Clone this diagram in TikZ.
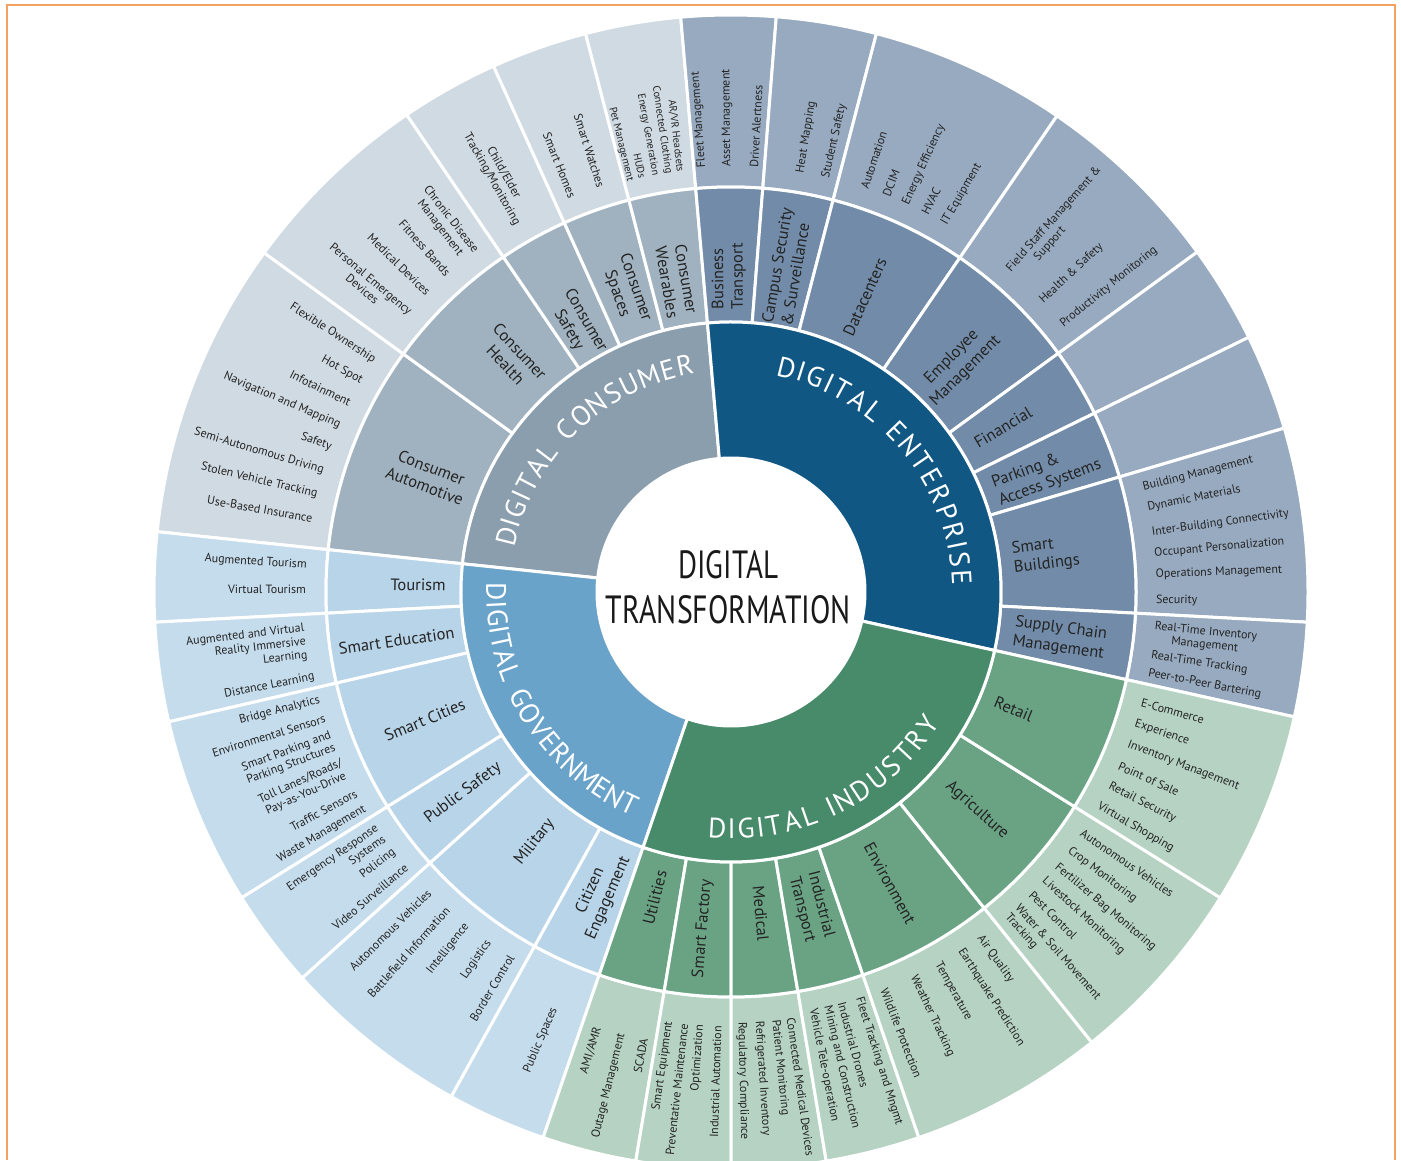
\documentclass[tikz,border=0pt]{standalone}
\usepackage{fontspec}
\usepackage{graphicx}
\setmainfont{PT Sans}
\newfontfamily\ptsans{PT Sans}
\usetikzlibrary{calc}
\definecolor{conI}{HTML}{8A9EAD}
\definecolor{conM}{HTML}{A0B2BF}
\definecolor{conO}{HTML}{D0DAE2}
\definecolor{entI}{HTML}{115784}
\definecolor{entM}{HTML}{718BA8}
\definecolor{entO}{HTML}{97AAC0}
\definecolor{govI}{HTML}{6AA3C9}
\definecolor{govM}{HTML}{B8D4E8}
\definecolor{govO}{HTML}{C5DCEC}
\definecolor{indI}{HTML}{488B6A}
\definecolor{indM}{HTML}{69A384}
\definecolor{indO}{HTML}{B5D2C2}
\definecolor{framecol}{HTML}{F4A261}
\definecolor{txt}{HTML}{242424}
\tikzset{
 otxt/.style={font=\ptsans\fontsize{12}{13.5}\selectfont, text=txt, inner sep=0pt, align=center},
 otxtsmall/.style={font=\ptsans\fontsize{10.5}{12}\selectfont, text=txt, inner sep=0pt},
 mtxt/.style={font=\ptsans\fontsize{16.5}{19.5}\selectfont, text=txt, inner sep=0pt},
 ringtxt/.style={font=\ptsans\fontsize{28}{28}\selectfont, text=white, inner sep=0pt, text height=19.5pt, text depth=0pt, anchor=center},
 titletxt/.style={font=\ptsans, text=black!90, inner sep=0pt},
}
\newcommand\ringsector[5]{\filldraw[fill=#5, draw=white, line width=3pt, line join=round] ($(C)+(#1:#3)$) arc[start angle=#1, end angle=#2, radius=#3pt] -- ($(C)+(#2:#4)$) arc[start angle=#2, end angle=#1, radius=#4pt] -- cycle;}
\newcommand\subcat[4]{\ringsector{#1}{#2}{405}{577}{#4}\ringsector{#1}{#2}{270}{405}{#3}}
\newcommand\oL[3][425]{\node[otxt, rotate=#2-180, anchor=east] at ($(C)+(#2:#1)$) {#3};}
\newcommand\oR[3][425]{\node[otxt, rotate=#2, anchor=west] at ($(C)+(#2:#1)$) {#3};}
\newcommand\oLs[2]{\node[otxtsmall, rotate=#1-180, anchor=east] at ($(C)+(#1:423)$) {#2};}
\newcommand\mL[4][center]{\node[mtxt, align=#1, rotate=#2-180] at ($(C)+(#2:#3)$) {#4};}
\newcommand\mR[4][center]{\node[mtxt, align=#1, rotate=#2] at ($(C)+(#2:#3)$) {#4};}
\newcommand\arcletters[5]{%
  \gdef\cumw{0}%
  \foreach \ch/\w in {#5}{%
    \pgfmathsetmacro\ang{#1+(#2)*(\cumw+\w/2)}%
    \node[ringtxt, rotate=\ang#4] at ($(C)+(\ang:#3)$) {\ch};
    \pgfmathsetmacro\tmpw{\cumw+\w}%
    \xdef\cumw{\tmpw}%
  }}
\begin{document}
\begin{tikzpicture}[x=1pt,y=1pt]
\useasboundingbox (0,0) rectangle (1401,1160);
\clip (0,0) rectangle (1401,1160);
\fill[white] (0,0) rectangle (1401,1160);
\coordinate (C) at (731,568);
% ---- consumer
\subcat{144}{174}{conM}{conO}
\subcat{124.2}{144}{conM}{conO}
\subcat{114.3}{124.2}{conM}{conO}
\subcat{104.6}{114.3}{conM}{conO}
\subcat{95}{104.6}{conM}{conO}
% ---- enterprise
\subcat{85.5}{95}{entM}{entO}
\subcat{75.4}{85.5}{entM}{entO}
\subcat{55.6}{75.4}{entM}{entO}
\subcat{36.1}{55.6}{entM}{entO}
\subcat{26.2}{36.1}{entM}{entO}
\subcat{16.5}{26.2}{entM}{entO}
\subcat{-3}{16.5}{entM}{entO}
\subcat{-12.5}{-3}{entM}{entO}
% ---- government
\subcat{174}{183}{govM}{govO}
\subcat{183}{193}{govM}{govO}
\subcat{193}{212}{govM}{govO}
\subcat{212}{222}{govM}{govO}
\subcat{222}{241}{govM}{govO}
\subcat{241}{251}{govM}{govO}
% ---- industry
\subcat{251}{260.5}{indM}{indO}
\subcat{260.5}{270}{indM}{indO}
\subcat{270}{279.5}{indM}{indO}
\subcat{279.5}{289}{indM}{indO}
\subcat{289}{308.7}{indM}{indO}
\subcat{308.7}{328}{indM}{indO}
\subcat{328}{347.5}{indM}{indO}
% ---- main ring
\ringsector{95}{174}{134}{270}{conI}
\ringsector{-12.5}{95}{134}{270}{entI}
\ringsector{174}{251}{134}{270}{govI}
\ringsector{251}{347.5}{134}{270}{indI}
\fill[white] (C) circle[radius=134pt];
% ---- title
\node[titletxt] (t1) at (728.5,595) {\resizebox{100pt}{28pt}{DIGITAL}};
\node[titletxt] (t2) at (728.5,550) {\resizebox{245pt}{28pt}{TRANSFORMATION}};
% ---- ring texts
\arcletters{168.46}{-4.914}{231}{-90}{D/1,I/.45,G/1,I/.45,T/.9,A/1,L/.8,~/.6,C/1,O/1.05,N/1,S/.9,U/1,M/1.15,E/.85,R/.95}
\arcletters{78.7}{-5.21}{231}{-90}{D/1,I/.45,G/1,I/.45,T/.9,A/1,L/.8,~/.6,E/.85,N/1,T/.9,E/.85,R/.95,P/.95,R/.95,I/.45,S/.9,E/.85}
\arcletters{177.85}{4.3}{235}{+90}{D/1,I/.45,G/1,I/.45,T/.9,A/1,L/.8,~/.6,G/1,O/1.05,V/1,E/.85,R/.95,N/1,M/1.15,E/.85,N/1,T/.9}
\arcletters{264.3}{4.79}{237}{+90}{D/1,I/.45,G/1,I/.45,T/.9,A/1,L/.8,~/.6,I/.45,N/1,D/1,U/1,S/.9,T/.9,R/.95,Y/.95}
% ---- second ring labels
\mL{159.2}{324}{Consumer\\Automotive}
\mL{133}{320}{Consumer\\Health}
\mL{120}{308}{Consumer\\Safety}
\mL{109.2}{319}{Consumer\\Spaces}
\mL{99.9}{316}{Consumer\\Wearables}
\mR[left]{90.4}{316}{Business\\Transport}
\mR[left]{80.3}{330}{Campus Security\\\& Surveillance}
\mR{65.6}{324}{Datacenters}
\mR{45}{322}{Employee\\Management}
\mR{31.2}{318}{Financial}
\mR[left]{20.5}{337}{Parking \&\\Access Systems}
\mR[left]{6.7}{317}{Smart\\Buildings}
\mR[left]{-8}{332}{Supply Chain\\Management}
\mL{178.7}{313}{Tourism}
\mL{188.3}{338}{Smart Education}
\mL{202.7}{332}{Smart Cities}
\mL{216.9}{335}{Public Safety}
\mL{231.9}{318}{Military}
\mL{246.5}{330}{Citizen\\Engagement}
\mL{256}{315}{Utilities}
\mL{265.2}{338}{Smart Factory}
\mR{275.3}{323}{Medical}
\mR{284.3}{325}{Industrial\\Transport}
\mR{298.6}{332}{Environment}
\mR{318.4}{329}{Agriculture}
\mR{337.5}{306}{Retail}
% ---- outer texts: consumer
\oL{147}{Flexible Ownership}
\oL{150.3}{Hot Spot}
\oL{153.6}{Infotainment}
\oL{156.9}{Navigation and Mapping}
\oL{160.1}{Safety}
\oL{163.4}{Semi-Autonomous Driving}
\oL{166.7}{Stolen Vehicle Tracking}
\oL{170}{Use-Based Insurance}
\oL{127.8}{Chronic Disease\\Management}
\oL{131.7}{Fitness Bands}
\oL{135.4}{Medical Devices}
\oL{139.8}{Personal Emergency\\Devices}
\oL{119.3}{Child/Elder\\Tracking/Monitoring}
\oL{111.9}{Smart Homes}
\oL{107.8}{Smart Watches}
\oLs{103.8}{Pet Management}
\oLs{102.1}{HUDs}
\oLs{100.3}{Energy Generation}
\oLs{98.5}{Connected Clothing}
\oLs{96.9}{AR/VR Headsets}
% ---- outer texts: enterprise
\oR{93.9}{Fleet Management}
\oR{90.5}{Asset Management}
\oR{86.9}{Driver Alertness}
\oR{80.6}{Heat Mapping}
\oR{77.1}{Student Safety}
\oR{71.7}{Automation}
\oR{68.6}{DCIM}
\oR{65.7}{Energy Efficiency}
\oR{62.9}{HVAC}
\oR{59.9}{IT Equipment}
\node[otxt, align=left, rotate=48.3, anchor=west] at ($(C)+(48.3:425)$) {Field Staff Management \&\\\hspace{2.2em}Support};
\oR{43.1}{Health \& Safety}
\oR{38.9}{Productivity Monitoring}
\oR{14.2}{Building Management}
\oR{11.4}{Dynamic Materials}
\oR{8.0}{Inter-Building Connectivity}
\oR{5.2}{Occupant Personalization}
\oR{2.3}{Operations Management}
\oR{-1.1}{Security}
\oR{-5.6}{Real-Time Inventory\\Management}
\oR{-8.6}{Real-Time Tracking}
\oR{-11}{Peer-to-Peer Bartering}
% ---- outer texts: industry
\oL[455]{253}{AMI/AMR}
\oL[455]{256.1}{Outage Management}
\oL[455]{259}{SCADA}
\oL[434]{261.8}{Smart Equipment}
\oL[434]{263.8}{Preventative Maintenance}
\oL[434]{265.9}{Optimization}
\oL[434]{268.2}{Industrial Automation}
\oR[430]{-88.6}{Regulatory Compliance}
\oR[430]{-86.3}{Refrigerated Inventory}
\oR[430]{-84.1}{Patient Monitoring}
\oR[430]{-82}{Connected Medical Devices}
\oR{-72.5}{Fleet Tracking and Mngmt}
\oR{-74.9}{Industrial Drones}
\oR{-76.9}{Mining and Construction}
\oR{-78.9}{Vehicle Tele-operation}
\oR{-54.2}{Air Quality}
\oR{-57.3}{Earthquake Prediction}
\oR{-60.9}{Temperature}
\oR{-64.6}{Weather Tracking}
\oR{-68.9}{Wildlife Protection}
\oR{-34.4}{Autonomous Vehicles}
\oR{-37.3}{Crop Monitoring}
\oR{-40.1}{Fertilizer Bag Monitoring}
\oR{-42.6}{Livestock Monitoring}
\oR{-45.1}{Pest Control}
\node[otxt, align=left, rotate=-48.6, anchor=west] at ($(C)+(-48.6:425)$) {Water \& Soil Movement\\Tracking};
\oR{-15.1}{E-Commerce}
\oR{-18.1}{Experience}
\oR{-21}{Inventory Management}
\oR{-24.1}{Point of Sale}
\oR{-27.1}{Retail Security}
\oR{-30.2}{Virtual Shopping}
% ---- outer texts: government
\oL{176.4}{Augmented Tourism}
\oL{179.7}{Virtual Tourism}
\node[otxt, align=right, rotate=6.7, anchor=east] at ($(C)+(186.7:428)$) {Augmented and Virtual\\Reality Immersive\\Learning};
\oL{191.5}{Distance Learning}
\oL{194.7}{Bridge Analytics}
\oL{197.3}{Environmental Sensors}
\oL{200.6}{Smart Parking and\\Parking Structures}
\oL{204.6}{Toll Lanes/Roads/\\Pay-as-You-Drive}
\oL{208.2}{Traffic Sensors}
\oL{210.6}{Waste Management}
\node[otxt, align=right, rotate=34.6, anchor=east] at ($(C)+(214.6:425)$) {Emergency Response\\Systems};
\oL{217.6}{Policing}
\oL{220.2}{Video Surveillance}
\oL{224.8}{Autonomous Vehicles}
\oL{228.2}{Battlefield Information}
\oL{231.6}{Intelligence}
\oL{235.3}{Logistics}
\oL{238.9}{Border Control}
\oL[452]{247}{Public Spaces}
% ---- frame
\draw[framecol, line width=2pt] (7,0) -- (7,1155) -- (1395,1155) -- (1395,0);
\end{tikzpicture}
\end{document}
